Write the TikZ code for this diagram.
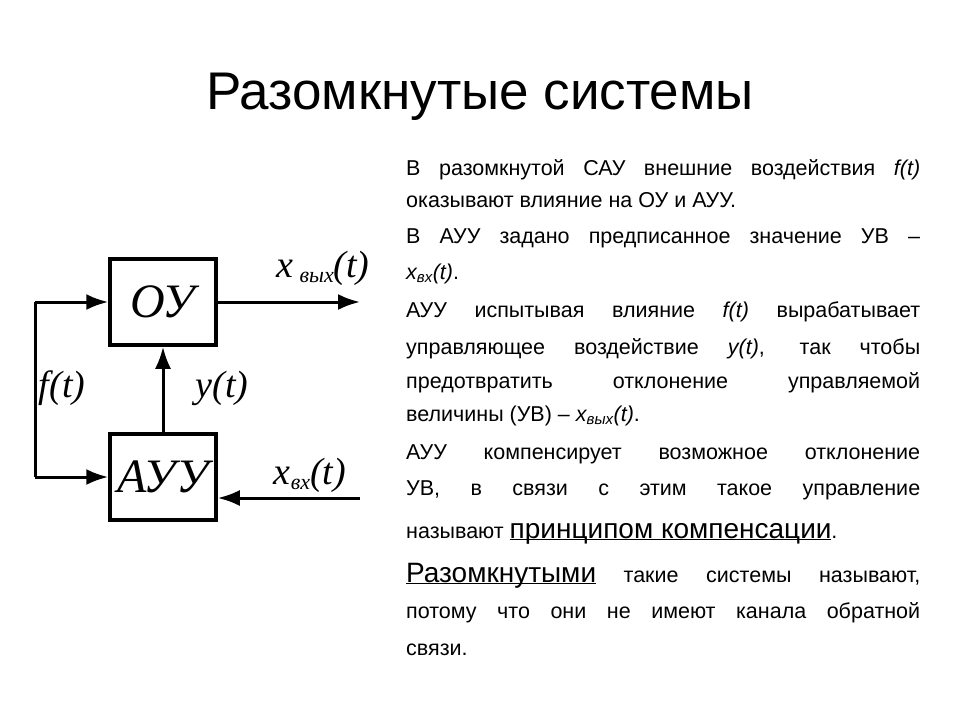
\documentclass[tikz,border=0pt]{standalone}
\usepackage{fontspec}
\setmainfont{Liberation Sans}
\newfontfamily\tms{Liberation Serif}
\usetikzlibrary{arrows.meta}
\tikzset{
 blk/.style={draw, line width=3.5pt, minimum width=106pt, minimum height=86pt, inner sep=0pt, font=\tms\itshape\fontsize{48}{48}\selectfont},
 conn/.style={line width=3pt, -{Latex[length=22pt,width=16pt]}},
 wire/.style={line width=3pt},
 lbl/.style={font=\tms\itshape\fontsize{38}{38}\selectfont, inner sep=0pt},
 tl/.style={anchor=base west, inner sep=0pt, font=\fontsize{21.5}{21.5}\selectfont},
}
\newcommand{\jl}[1]{\makebox[514pt][s]{#1}}
\newcommand{\ul}[1]{\underline{\smash{#1}}}
\begin{document}
\begin{tikzpicture}[x=1pt,y=-1pt]
\useasboundingbox (0,0) rectangle (960,720);
\node[font=\fontsize{53}{53}\selectfont] (title) at (480,97) {Разомкнутые системы};
% diagram
\node[blk] (ou) at (163,302) {ОУ};
\node[blk] (auu) at (163,477) {АУУ};
\coordinate (lt) at (35,302);
\coordinate (lb) at (35,477);
\coordinate (out) at (360,302);
\coordinate (in) at (360,498);
\draw[wire] (lt) -- (lb);
\draw[conn] (lt) -- (ou.west);
\draw[conn] (lb) -- (auu.west);
\draw[conn] (ou.east) -- (out);
\draw[conn] (auu.north) -- (ou.south);
\draw[conn] (in) -- (auu.east |- in);
\node[lbl] (xout) at (323,268) {x\,\raisebox{-5pt}{\fontsize{22}{22}\selectfont вых}(t)};
\node[lbl] (ft) at (62,388) {f(t)};
\node[lbl] (yt) at (222,388) {y(t)};
\node[lbl] (xin) at (310,475) {x\raisebox{-5pt}{\fontsize{22}{22}\selectfont вх}(t)};
% text
\node[tl] (t1) at (406,175) {\jl{В разомкнутой САУ внешние воздействия \textit{f(t)}}};
\node[tl] (t2) at (406,207) {оказывают влияние на ОУ и АУУ.};
\node[tl] (t3) at (406,243) {\jl{В АУУ задано предписанное значение УВ –}};
\node[tl] (t4) at (406,279) {\textit{x\textsubscript{вх}(t)}.};
\node[tl] (t5) at (406,317) {\jl{АУУ испытывая влияние \textit{f(t)} вырабатывает}};
\node[tl] (t6) at (406,354) {\jl{управляющее воздействие \textit{y(t)}, так чтобы}};
\node[tl] (t7) at (406,388) {\jl{предотвратить отклонение управляемой}};
\node[tl] (t8) at (406,421) {величины (УВ) – \textit{x\textsubscript{вых}(t)}.};
\node[tl] (t9) at (406,459) {\jl{АУУ компенсирует возможное отклонение}};
\node[tl] (t10) at (406,495) {\jl{УВ, в связи с этим такое управление}};
\node[tl] (t11) at (406,538) {называют {\fontsize{28}{28}\selectfont\ul{принципом компенсации}}.};
\node[tl] (t12) at (406,582) {\jl{{\fontsize{28}{28}\selectfont\ul{Разомкнутыми}} такие системы называют,}};
\node[tl] (t13) at (406,618) {\jl{потому что они не имеют канала обратной}};
\node[tl] (t14) at (406,655) {связи.};
\end{tikzpicture}
\end{document}
